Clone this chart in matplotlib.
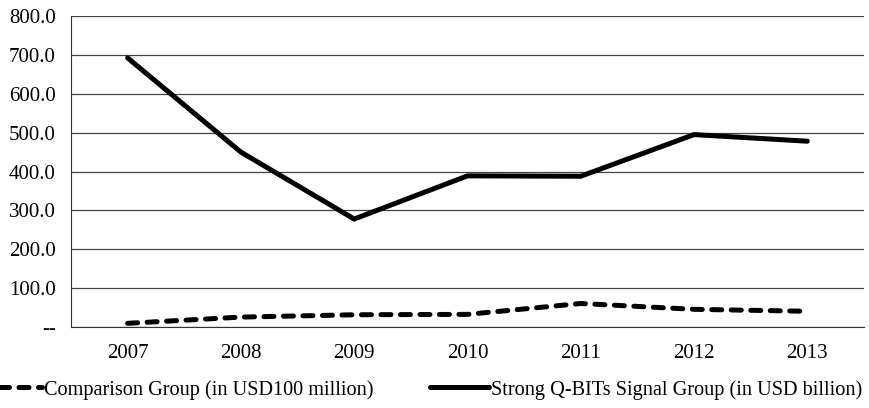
import numpy as np
import matplotlib.pyplot as plt
from matplotlib.ticker import FuncFormatter

# data
years = ['2007', '2008', '2009', '2010', '2011', '2012', '2013']
comparison = [10, 26, 32, 33, 61, 46, 41]
strong = [692, 450, 278, 389, 388, 495, 478]

plt.rcParams['font.family'] = 'Liberation Serif'

fig = plt.figure(figsize=(8.69, 4.08), dpi=100)
ax = fig.add_axes([0.0817, 0.198, 0.9125, 0.763])

x = np.arange(len(years))
ax.plot(x, comparison, color='black', lw=3.6, linestyle=(0, (2.0, 1.9)),
        dash_capstyle='round', solid_capstyle='round',
        label='Comparison Group (in USD100 million)')
ax.plot(x, strong, color='black', lw=3.6, solid_capstyle='round',
        solid_joinstyle='miter', label='Strong Q-BITs Signal Group (in USD billion)')

# axes and grid
ax.set_xlim(-0.5, len(years) - 0.5)
ax.set_ylim(0, 800)
ax.set_yticks(np.arange(0, 801, 100))
ax.yaxis.set_major_formatter(FuncFormatter(lambda v, p: '--' if v == 0 else '%.1f' % v))
ax.set_xticks(x)
ax.set_xticklabels(years)
ax.grid(axis='y', color='#444444', lw=0.9)
ax.set_axisbelow(True)
ax.tick_params(length=0, labelsize=15)
ax.tick_params(axis='x', pad=12)
ax.tick_params(axis='y', pad=11)
for s in ['top', 'right']:
    ax.spines[s].set_visible(False)
ax.spines['left'].set_color('#333333')
ax.spines['bottom'].set_color('#333333')

# legend below the plot (left end runs off the picture like in the original)
fig.legend(loc='center left', bbox_to_anchor=(-0.031, 0.045), ncol=2, frameon=False,
           fontsize=14.6, borderpad=0, handlelength=2.9, handletextpad=0.1,
           columnspacing=2.8)

fig.savefig('out.png', dpi=100)
